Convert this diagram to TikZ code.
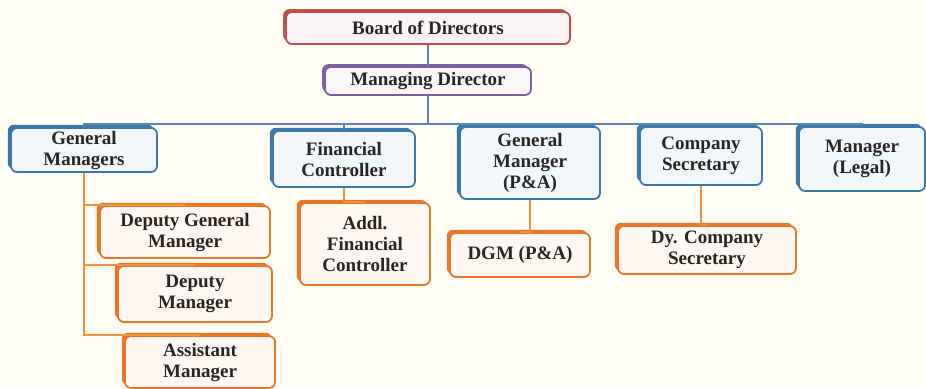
\documentclass[tikz,border=0pt]{standalone}
\usepackage{fontspec}
\setmainfont{Liberation Serif}
\usepackage{tikz}
\usetikzlibrary{shadows, positioning}

\definecolor{paper}{HTML}{FFFDF4}
\definecolor{redbd}{HTML}{C0504D}
\definecolor{purplebd}{HTML}{7D60A0}
\definecolor{bluebd}{HTML}{3C78A8}
\definecolor{orangebd}{HTML}{E8762B}
\definecolor{busline}{HTML}{5A86B0}
\definecolor{subline}{HTML}{F0913F}

\begin{document}
\begin{tikzpicture}[x=0.5pt, y=-0.5pt,
    font=\fontsize{9.5}{10.5}\selectfont\bfseries, text=black!85,
    box/.style={draw, line width=0.9pt, rounded corners=3pt, align=center,
        inner sep=0pt},
    top/.style={box, draw=redbd, fill=redbd!6,
        drop shadow={shadow xshift=-1.4pt, shadow yshift=1.4pt, fill=redbd, opacity=1}},
    md/.style={box, draw=purplebd, fill=purplebd!5,
        drop shadow={shadow xshift=-1.4pt, shadow yshift=1.4pt, fill=purplebd, opacity=1}},
    head/.style={box, draw=bluebd, fill=bluebd!6,
        drop shadow={shadow xshift=-1.6pt, shadow yshift=1.6pt, fill=bluebd, opacity=1}},
    sub/.style={box, draw=orangebd, fill=orangebd!6,
        drop shadow={shadow xshift=-1.6pt, shadow yshift=1.6pt, fill=orangebd, opacity=1}},
    bus/.style={busline, line width=0.8pt},
    link/.style={subline, line width=0.8pt}]

    \fill[paper] (0,0) rectangle (926,388);
    \useasboundingbox (0,0) rectangle (926,388);

    % top of the tree
    \node[top, minimum width=142pt, minimum height=16pt] (board) at (428,28) {Board of Directors};
    \node[md, minimum width=103pt, minimum height=14pt] (mdir) at (428,81) {Managing Director};

    % heads of department
    \node[head, minimum width=73pt, minimum height=22pt] (genmgr) at (84,150) {General\\Managers};
    \node[head, minimum width=71pt, minimum height=28pt] (finctl) at (344,159) {Financial\\Controller};
    \node[head, minimum width=70pt, minimum height=36pt] (gmpa) at (530,163) {General\\Manager\\(P\&A)};
    \node[head, minimum width=61pt, minimum height=29pt] (cosec) at (701,156) {Company\\Secretary};
    \node[head, minimum width=63pt, minimum height=32pt] (legal) at (862,159) {Manager\\(Legal)};

    % second level
    \node[sub, minimum width=85pt, minimum height=26pt] (dgm) at (185,232) {Deputy General\\Manager};
    \node[sub, minimum width=77pt, minimum height=28pt] (depmgr) at (195,294) {Deputy\\Manager};
    \node[sub, minimum width=75pt, minimum height=26pt] (astmgr) at (200,362) {Assistant\\Manager};
    \node[sub, minimum width=65pt, minimum height=41pt] (addlfc) at (365,244) {Addl.\\Financial\\Controller};
    \node[sub, minimum width=70pt, minimum height=22pt] (dgmpa) at (520,255) {DGM (P\&A)};
    \node[sub, minimum width=89pt, minimum height=24pt] (dycs) at (707,250) {Dy. Company\\Secretary};

    \coordinate (split) at (428,124);

    \draw[bus] (board) -- (mdir);
    \draw[bus] (mdir) -- (split);
    \draw[bus] (split) -| (genmgr);
    \draw[bus] (split) -| (finctl);
    \draw[bus] (split) -| (gmpa);
    \draw[bus] (split) -| (cosec);
    \draw[bus] (split) -| (legal);

    \draw[link] (genmgr) |- (dgm.north);
    \draw[link] (genmgr) |- (depmgr.north);
    \draw[link] (genmgr) |- (astmgr.north);
    \draw[link] (finctl) |- (addlfc.north);
    \draw[link] (gmpa) |- (dgmpa.north);
    \draw[link] (cosec) |- (dycs.north);
\end{tikzpicture}
\end{document}
